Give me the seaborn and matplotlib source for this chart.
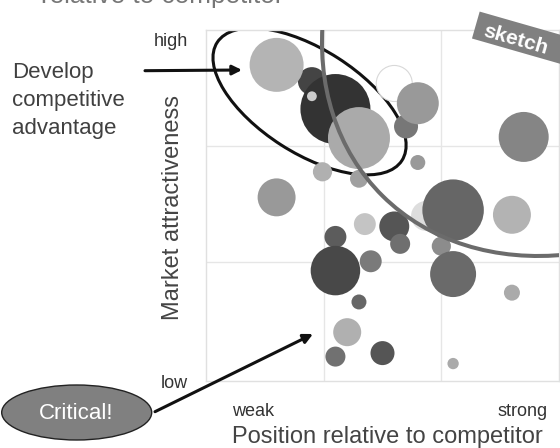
import matplotlib
matplotlib.use("Agg")
import matplotlib.pyplot as plt
from matplotlib.patches import Ellipse, Arc, Rectangle
import seaborn as sns
import pandas as pd

# Bubble portfolio (axes run 0..3 on both sides).
# Listed in drawing order: later bubbles sit on top of earlier ones.
position = [0.90, 0.60, 1.10, 0.90, 1.30, 1.60, 1.70, 1.80, 2.70, 1.80,
            0.99, 1.30, 0.60, 1.87, 2.10, 2.60, 1.35, 1.60, 1.65, 2.00,
            1.10, 1.10, 1.40, 2.10, 2.60, 1.30, 1.20, 1.10, 1.50, 2.10]
attractiveness = [2.56, 2.70, 2.32, 2.43, 2.07, 2.54, 2.17, 2.37, 2.08, 1.86,
                  1.78, 1.72, 1.56, 1.40, 1.45, 1.41, 1.33, 1.31, 1.16, 1.14,
                  1.22, 0.93, 1.01, 0.90, 0.74, 0.66, 0.40, 0.19, 0.22, 0.13]
volume = [49, 182, 306, 6, 240, 81, 36, 110, 156, 14,
          23, 20, 90, 56, 236, 90, 30, 56, 25, 23,
          30, 153, 30, 132, 16, 14, 49, 25, 36, 8]
shade = ["#444444", "#b4b4b4", "#333333", "#cccccc", "#aaaaaa", "#ffffff",
         "#777777", "#999999", "#858585", "#999999", "#b0b0b0", "#a0a0a0",
         "#999999", "#dddddd", "#666666", "#b3b3b3", "#c4c4c4", "#555555",
         "#6f6f6f", "#8c8c8c", "#5c5c5c", "#484848", "#7a7a7a", "#6a6a6a",
         "#aaaaaa", "#666666", "#b0b0b0", "#717171", "#555555", "#aaaaaa"]

x_ticks = [0.40, 2.69]
x_tick_labels = ["weak", "strong"]
y_ticks = [-0.02, 2.92]
y_tick_labels = ["low", "high"]

sns.set_theme(style="white")
plt.rcParams["font.family"] = ["Liberation Sans", "DejaVu Sans"]

W, H = 560, 448
fig = plt.figure(figsize=(W / 100, H / 100), dpi=100)
ax = fig.add_axes([206 / W, 1 - 381 / H, 353 / W, 351 / H])

df = pd.DataFrame({"position": position, "attractiveness": attractiveness,
                   "volume": volume, "shade": shade})
edges = ["#d8d8d8" if c == "#ffffff" else "none" for c in shade]

# area in pt^2 proportional to volume
sns.scatterplot(data=df, x="position", y="attractiveness", size="volume",
                sizes=(0, 2540), size_norm=(0, 306), hue="shade",
                palette={c: c for c in shade}, edgecolor=edges, linewidth=0.8,
                legend=False, ax=ax, zorder=3)

# focus ellipse and the sweeping boundary arc
ax.add_patch(Ellipse((0.88, 2.385), 1.87, 0.89, angle=-33, fill=False,
                     ec="#111111", lw=2.2, zorder=2))
ax.add_patch(Arc((3.34, 3.41), 5.2, 4.16, angle=45, theta1=90, theta2=270,
                 color="#6b6b6b", lw=2.9, zorder=4))

ax.set_xlim(0, 3)
ax.set_ylim(0, 3)
ax.set_xticks(x_ticks, x_tick_labels)
ax.set_yticks(y_ticks, y_tick_labels)
ax.set_xticks([1, 2], minor=True)
ax.set_yticks([1, 2], minor=True)
ax.grid(which="minor", color="#e6e6e6", lw=1)
ax.grid(which="major", visible=False)
ax.tick_params(which="both", length=0)
ax.tick_params(axis="x", pad=16, labelsize=13, labelcolor="#333333")
ax.tick_params(axis="y", pad=13, labelsize=13, labelcolor="#333333")
for sp in ax.spines.values():
    sp.set_color("#e0e0e0")
    sp.set_linewidth(1)

ax.set_xlabel("Position relative to competitor", fontsize=17, color="#444444")
ax.set_ylabel("Market attractiveness", fontsize=17, color="#444444")
ax.xaxis.set_label_coords((387 - 206) / 353, (381 - 436.5) / 351)
ax.yaxis.set_label_coords((173 - 206) / 353, (381 - 208) / 351)
ax.xaxis.label.set_va("center")
ax.yaxis.label.set_va("center")

# cut-off title line at the very top
fig.text(41 / W, 1 - 3.5 / H, "relative to competitor", fontsize=18.8,
         color="#777777", va="baseline", ha="left")

fig.text(11.7 / W, 1 - 100.5 / H, "Develop\ncompetitive\nadvantage",
         fontsize=16, color="#404040", va="center", ha="left", linespacing=1.42)

arrow = dict(arrowstyle="-|>", lw=2.2, color="#111111", mutation_scale=14,
             shrinkA=0, shrinkB=0)
ax.annotate("", xy=(242, H - 70), xytext=(145, H - 70.7),
            xycoords="figure pixels", textcoords="figure pixels",
            arrowprops=arrow, annotation_clip=False)
ax.annotate("", xy=(313, H - 334), xytext=(155, H - 411.7),
            xycoords="figure pixels", textcoords="figure pixels",
            arrowprops=arrow, annotation_clip=False)

# "Critical!" callout
fig.add_artist(Ellipse((76.7 / W, 1 - 412.5 / H), 150 / W, 55 / H,
                       transform=fig.transFigure, fc="#808080", ec="#222222",
                       lw=1))
fig.text(76.5 / W, 1 - 413 / H, "Critical!", fontsize=16, color="white",
         ha="center", va="center")

# sketch stamp
fig.add_artist(Rectangle((521 / 100 - 0.47, (H - 38) / 100 - 0.14), 0.94, 0.28,
                         angle=-16, rotation_point="center",
                         transform=fig.dpi_scale_trans, fc="#808080", ec="none"))
fig.text(516 / W, 1 - 40 / H, "sketch", fontsize=15, weight="bold",
         color="white", rotation=-16, ha="center", va="center",
         rotation_mode="anchor")

fig.savefig("out.png", dpi=100)
